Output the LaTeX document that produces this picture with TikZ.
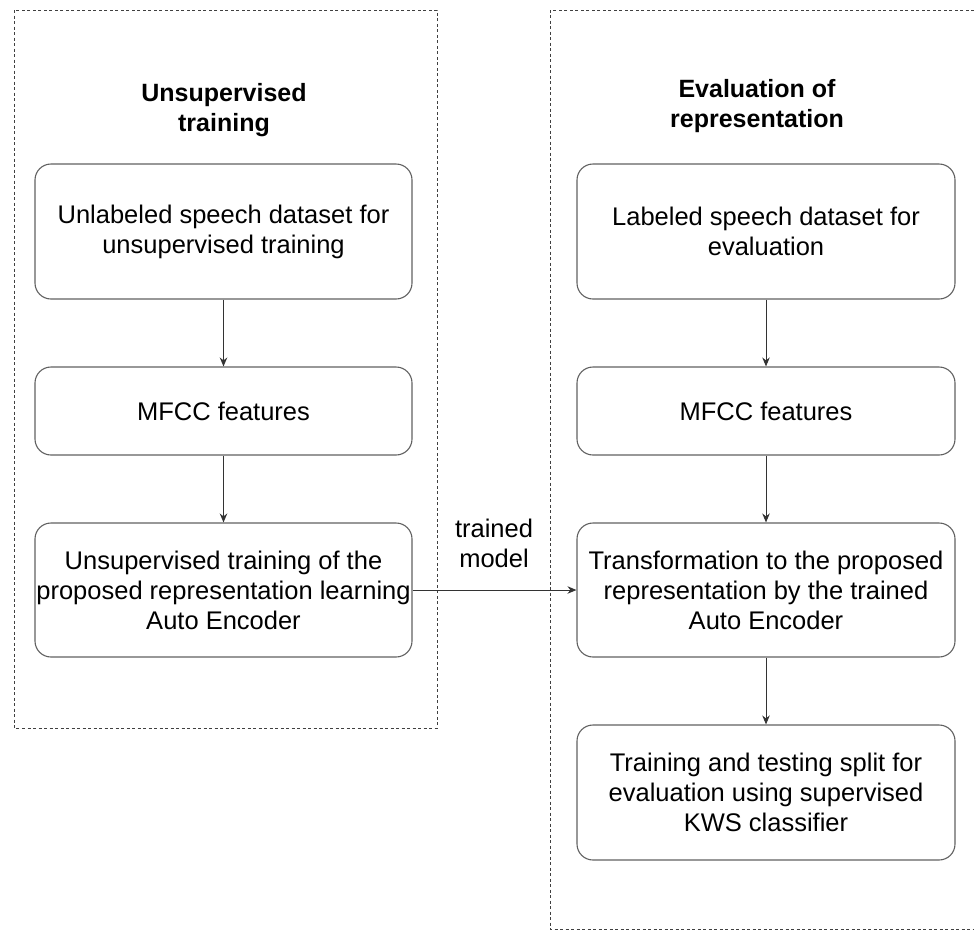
\documentclass[tikz,border=0pt]{standalone}
\usepackage{fontspec}
\setmainfont{Liberation Sans}
\usetikzlibrary{arrows.meta}
\begin{document}
\begin{tikzpicture}[x=1pt,y=-1pt,
  box/.style={draw=black!62,line width=1.1pt,rounded corners=16pt,align=center,inner sep=0pt,
    font=\fontsize{25.5}{30}\selectfont},
  title/.style={align=center,inner sep=0pt,font=\fontsize{25}{30}\selectfont\bfseries},
  lbl/.style={align=center,inner sep=0pt,font=\fontsize{25.5}{30}\selectfont},
  frame/.style={draw=black!75,line width=1pt,dash pattern=on 3pt off 2.5pt},
  conn/.style={draw=black!80,line width=1pt,-{Stealth[length=9pt,width=7.5pt]}}]
\useasboundingbox (0,0) rectangle (974,930);
% frames
\draw[frame] (14,10) rectangle (437,728);
\draw[frame] (974,10) -- (550,10) -- (550,929) -- (974,929);
% titles
\node[title] (t1) at (224,110) {Unsupervised\\training};
\node[title] (t2) at (757,106) {Evaluation of\\representation};
% left column
\node[box,minimum width=377pt,minimum height=135pt] (a1) at (223.5,231.5) {Unlabeled speech dataset for\\unsupervised training};
\node[box,minimum width=377pt,minimum height=88pt] (a2) at (223.5,411) {MFCC features};
\node[box,minimum width=377pt,minimum height=134pt] (a3) at (223.5,590) {Unsupervised training of the\\proposed representation learning\\Auto Encoder};
% right column
\node[box,minimum width=378pt,minimum height=135pt] (b1) at (766,231.5) {Labeled speech dataset for\\evaluation};
\node[box,minimum width=378pt,minimum height=88pt] (b2) at (766,411) {MFCC features};
\node[box,minimum width=378pt,minimum height=134pt] (b3) at (766,590) {Transformation to the proposed\\representation by the trained\\Auto Encoder};
\node[box,minimum width=378pt,minimum height=135pt] (b4) at (766,792.5) {Training and testing split for\\evaluation using supervised\\KWS classifier};
% label
\node[lbl] (lb) at (494,543) {trained\\model};
% connectors
\draw[conn] (a1) -- (a2);
\draw[conn] (a2) -- (a3);
\draw[conn] (b1) -- (b2);
\draw[conn] (b2) -- (b3);
\draw[conn] (b3) -- (b4);
\draw[conn] (a3) -- (b3);
\end{tikzpicture}
\end{document}
